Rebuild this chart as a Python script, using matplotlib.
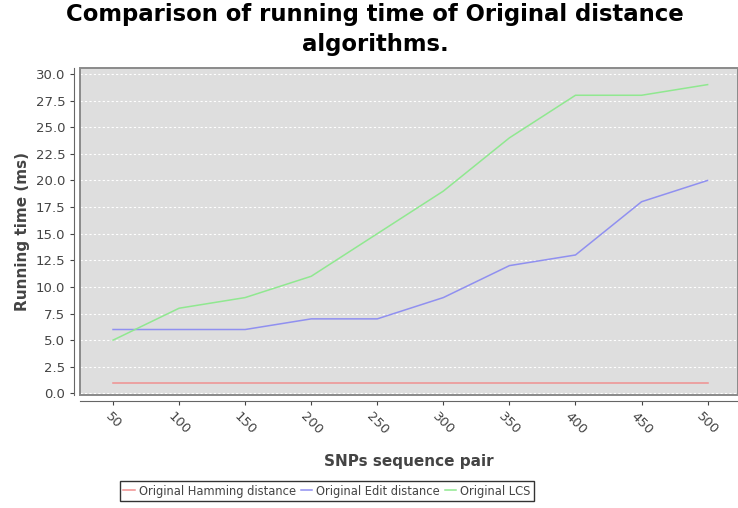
import matplotlib.pyplot as plt
from matplotlib.patches import Rectangle

# ---- data -------------------------------------------------------------------
pairs = [50, 100, 150, 200, 250, 300, 350, 400, 450, 500]
hamming = [1, 1, 1, 1, 1, 1, 1, 1, 1, 1]
edit = [6, 6, 6, 7, 7, 9, 12, 13, 18, 20]
lcs = [5, 8, 9, 11, 15, 19, 24, 28, 28, 29]
y_ticks = [0.0, 2.5, 5.0, 7.5, 10.0, 12.5, 15.0, 17.5, 20.0, 22.5, 25.0, 27.5, 30.0]

series_names = ["Original Hamming distance", "Original Edit distance", "Original LCS"]
series_colors = ["#F09090", "#9090F0", "#90E890"]

# ---- plot -------------------------------------------------------------------
W, H = 738, 508
fig = plt.figure(figsize=(W / 100, H / 100), dpi=100)
ax = fig.add_axes([80 / W, (H - 395) / H, 658 / W, 327 / H])
ax.set_facecolor("#DEDEDE")

# outer axis lines offset from the plot box (done first: it resets the ticks)
for side in ["top", "right"]:
    ax.spines[side].set_visible(False)
for side in ["left", "bottom"]:
    ax.spines[side].set_position(("outward", 4))
    ax.spines[side].set_color("#666666")
ax.add_patch(Rectangle((0, 0), 1, 1, transform=ax.transAxes, fill=False,
                       edgecolor="#8A8A8A", linewidth=1.4, clip_on=False, zorder=5))

for vals, name, col in zip([hamming, edit, lcs], series_names, series_colors):
    ax.plot(pairs, vals, color=col, linewidth=1.1, label=name)

ax.set_xlim(25, 523)
ax.set_ylim(-0.15, 30.56)
ax.set_xticks(pairs)
ax.set_xticklabels([str(p) for p in pairs], rotation=-45, ha="center", va="top")
ax.set_yticks(y_ticks)
ax.set_yticklabels([f"{t:.1f}" for t in y_ticks])
ax.tick_params(colors="#444444", labelsize=9.5, length=3, width=0.8)
ax.tick_params(axis="x", pad=4)

ax.grid(axis="y", color="white", linestyle=(0, (2, 2)), linewidth=0.8)
ax.set_axisbelow(True)

ax.set_xlabel("SNPs sequence pair", fontsize=11, fontweight="bold", color="#444444", labelpad=12)
ax.set_ylabel("Running time (ms)", fontsize=11, fontweight="bold", color="#444444", labelpad=4)

fig.suptitle("Comparison of running time of Original distance\nalgorithms.",
             x=375 / W, y=0.994, fontsize=16.4, fontweight="bold", linespacing=1.38)

fig.legend(loc="center", bbox_to_anchor=(327 / W, 1 - 491 / H), ncol=3,
           fontsize=8.3, frameon=True, fancybox=False, edgecolor="black",
           handlelength=1.0, handletextpad=0.35, columnspacing=0.4,
           borderpad=0.3, labelcolor="#444444")

fig.savefig("out.png", dpi=100)
